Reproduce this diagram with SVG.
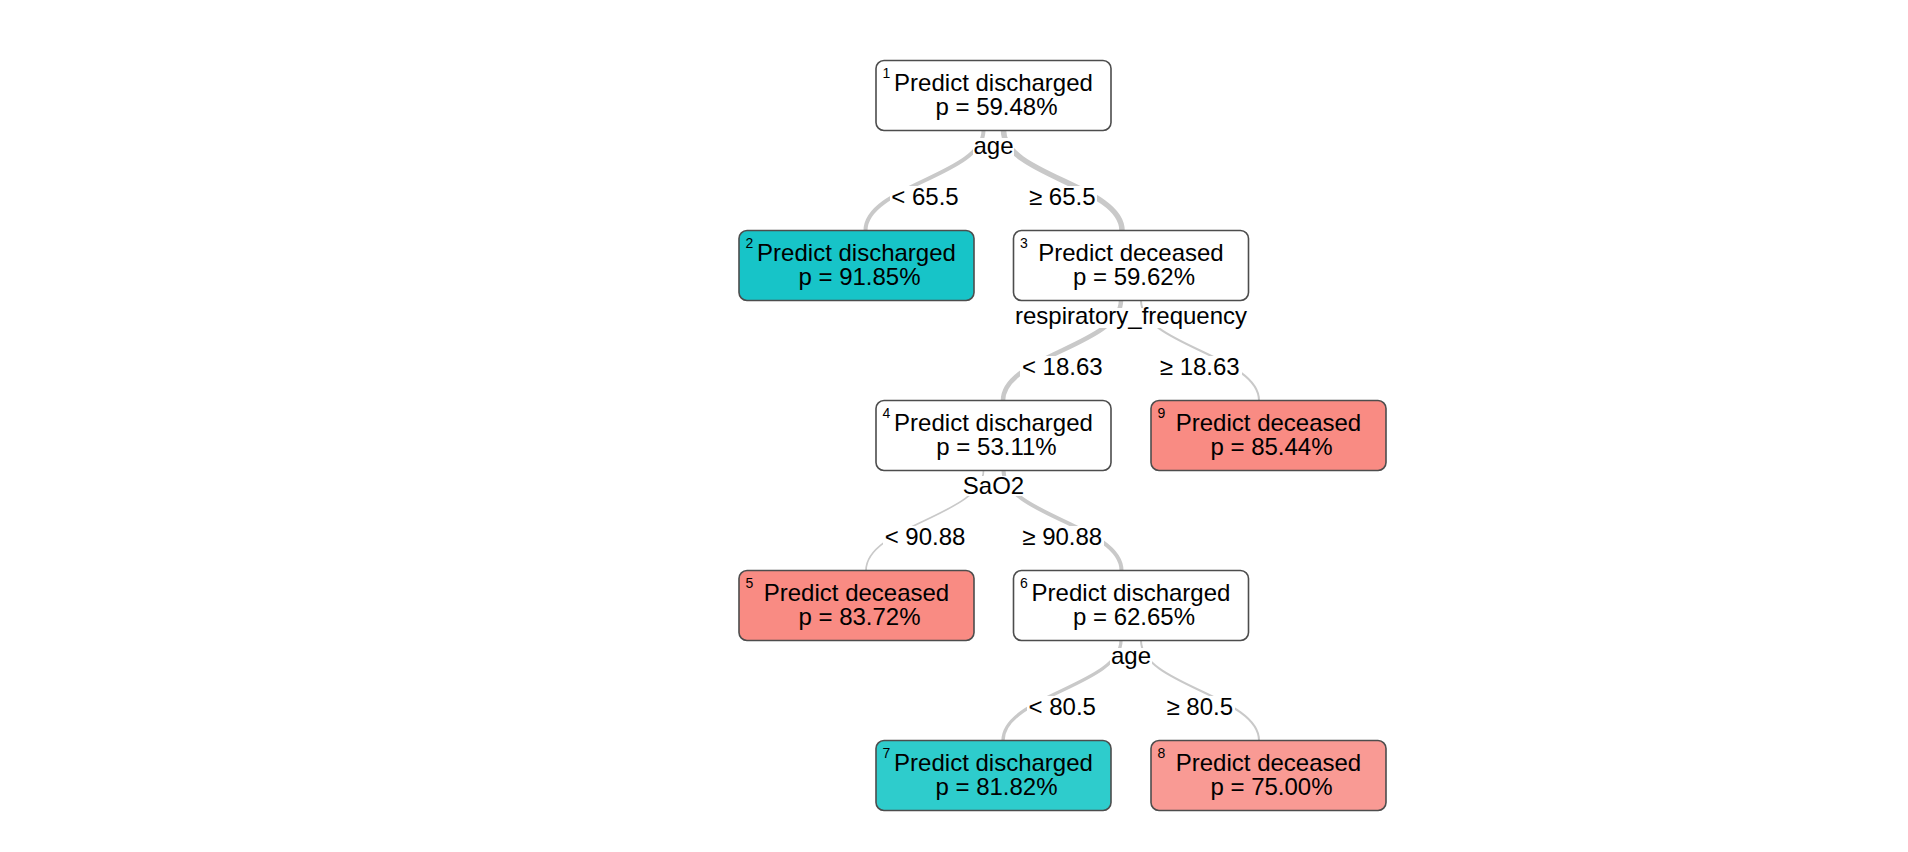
<svg xmlns="http://www.w3.org/2000/svg" width="1908" height="852" viewBox="0 0 1908 852">
<style>
.bg{fill:#ffffff}
.node rect{stroke:#4d4d4d;stroke-width:1.6}
.t{font-family:"Liberation Sans",Arial,Helvetica,sans-serif;font-size:24px;fill:#000;text-anchor:middle}
.n{font-family:"Liberation Sans",Arial,Helvetica,sans-serif;font-size:14px;fill:#000}
.e{fill:none;stroke:#c9c9c9;stroke-linecap:butt}
.lb{fill:#ffffff}
.white{fill:#ffffff}
.teal{fill:#17c4c8}
.teal2{fill:#2ecccc}
.red{fill:#f98b83}
.red2{fill:#f99a94}
</style>
<rect class="bg" x="0" y="0" width="1908" height="852"/>
<g id="connectors">
  <path class="e" stroke-width="4" d="M983.5,130.5 C983.5,175 865.5,186 865.5,230.5"/>
  <path class="e" stroke-width="5.5" d="M1003.5,130.5 C1003.5,175 1122,186 1122,230.5"/>
  <path class="e" stroke-width="4.5" d="M1121,300.5 C1121,345 1003,356 1003,400.5"/>
  <path class="e" stroke-width="2" d="M1141,300.5 C1141,345 1259,356 1259,400.5"/>
  <path class="e" stroke-width="1.7" d="M983.5,470.5 C983.5,515 866,526 866,570.5"/>
  <path class="e" stroke-width="4" d="M1003.5,470.5 C1003.5,515 1121.5,526 1121.5,570.5"/>
  <path class="e" stroke-width="3.3" d="M1121,640.5 C1121,685 1003,696 1003,740.5"/>
  <path class="e" stroke-width="2" d="M1141,640.5 C1141,685 1259,696 1259,740.5"/>
</g>
<g id="labels">
  <rect class="lb" x="973" y="138" width="41" height="20"/>
  <text class="t" x="993.5" y="153.5">age</text>
  <rect class="lb" x="890" y="186" width="70" height="22"/>
  <text class="t" x="925" y="204.5">&lt; 65.5</text>
  <rect class="lb" x="1027" y="186" width="70" height="22"/>
  <text class="t" x="1062.25" y="204.5">≥ 65.5</text>

  <rect class="lb" x="1014" y="308" width="234" height="20"/>
  <text class="t" x="1131" y="323.5">respiratory_frequency</text>
  <rect class="lb" x="1020" y="356" width="84" height="22"/>
  <text class="t" x="1062.25" y="374.5">&lt; 18.63</text>
  <rect class="lb" x="1158" y="356" width="84" height="22"/>
  <text class="t" x="1199.75" y="374.5">≥ 18.63</text>

  <rect class="lb" x="962" y="476" width="63" height="20"/>
  <text class="t" x="993.5" y="493.5">SaO2</text>
  <rect class="lb" x="883" y="526" width="84" height="22"/>
  <text class="t" x="925" y="544.5">&lt; 90.88</text>
  <rect class="lb" x="1020" y="526" width="84" height="22"/>
  <text class="t" x="1062.25" y="544.5">≥ 90.88</text>

  <rect class="lb" x="1110" y="648" width="42" height="20"/>
  <text class="t" x="1131" y="663.5">age</text>
  <rect class="lb" x="1027" y="696" width="70" height="22"/>
  <text class="t" x="1062.25" y="714.5">&lt; 80.5</text>
  <rect class="lb" x="1165" y="696" width="70" height="22"/>
  <text class="t" x="1199.75" y="714.5">≥ 80.5</text>
</g>
<g id="node1" class="node">
  <rect class="white" x="876" y="60.5" width="235" height="70" rx="8"/>
  <text class="n" x="882.5" y="77.5">1</text>
  <text class="t" x="993.5" y="91">Predict discharged</text>
  <text class="t" x="996.5" y="114.5">p = 59.48%</text>
</g>
<g id="node2" class="node">
  <rect class="teal" x="739" y="230.5" width="235" height="70" rx="8"/>
  <text class="n" x="745.5" y="247.5">2</text>
  <text class="t" x="856.5" y="261">Predict discharged</text>
  <text class="t" x="859.5" y="284.5">p = 91.85%</text>
</g>
<g id="node3" class="node">
  <rect class="white" x="1013.5" y="230.5" width="235" height="70" rx="8"/>
  <text class="n" x="1020" y="247.5">3</text>
  <text class="t" x="1131" y="261">Predict deceased</text>
  <text class="t" x="1134" y="284.5">p = 59.62%</text>
</g>
<g id="node4" class="node">
  <rect class="white" x="876" y="400.5" width="235" height="70" rx="8"/>
  <text class="n" x="882.5" y="417.5">4</text>
  <text class="t" x="993.5" y="431">Predict discharged</text>
  <text class="t" x="996.5" y="454.5">p = 53.11%</text>
</g>
<g id="node9" class="node">
  <rect class="red" x="1151" y="400.5" width="235" height="70" rx="8"/>
  <text class="n" x="1157.5" y="417.5">9</text>
  <text class="t" x="1268.5" y="431">Predict deceased</text>
  <text class="t" x="1271.5" y="454.5">p = 85.44%</text>
</g>
<g id="node5" class="node">
  <rect class="red" x="739" y="570.5" width="235" height="70" rx="8"/>
  <text class="n" x="745.5" y="587.5">5</text>
  <text class="t" x="856.5" y="601">Predict deceased</text>
  <text class="t" x="859.5" y="624.5">p = 83.72%</text>
</g>
<g id="node6" class="node">
  <rect class="white" x="1013.5" y="570.5" width="235" height="70" rx="8"/>
  <text class="n" x="1020" y="587.5">6</text>
  <text class="t" x="1131" y="601">Predict discharged</text>
  <text class="t" x="1134" y="624.5">p = 62.65%</text>
</g>
<g id="node7" class="node">
  <rect class="teal2" x="876" y="740.5" width="235" height="70" rx="8"/>
  <text class="n" x="882.5" y="757.5">7</text>
  <text class="t" x="993.5" y="771">Predict discharged</text>
  <text class="t" x="996.5" y="794.5">p = 81.82%</text>
</g>
<g id="node8" class="node">
  <rect class="red2" x="1151" y="740.5" width="235" height="70" rx="8"/>
  <text class="n" x="1157.5" y="757.5">8</text>
  <text class="t" x="1268.5" y="771">Predict deceased</text>
  <text class="t" x="1271.5" y="794.5">p = 75.00%</text>
</g>
</svg>
